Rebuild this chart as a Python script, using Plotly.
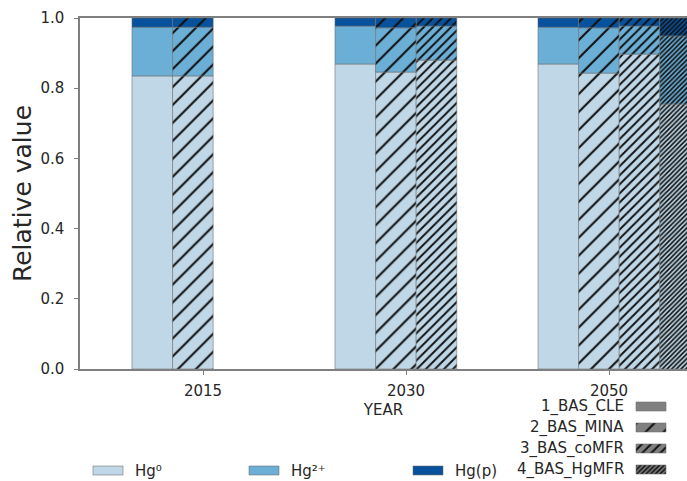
import plotly.graph_objects as go

years = ["2015", "2030", "2050"]
scenarios = ["1_BAS_CLE", "2_BAS_MINA", "3_BAS_coMFR", "4_BAS_HgMFR"]
species = ["Hg⁰", "Hg²⁺", "Hg(p)"]

# Share of each mercury species; rows = scenario, columns = year (None = not modelled)
hg0_share = [
    [0.835, 0.869, 0.869],
    [0.835, 0.846, 0.843],
    [None, 0.880, 0.897],
    [None, None, 0.755],
]
hg2_share = [
    [0.139, 0.108, 0.105],
    [0.139, 0.126, 0.129],
    [None, 0.097, 0.080],
    [None, None, 0.194],
]
hgp_share = [
    [0.026, 0.023, 0.026],
    [0.026, 0.028, 0.028],
    [None, 0.023, 0.023],
    [None, None, 0.051],
]

W, H = 687, 481
FONT = "DejaVu Sans"
TEXT = "#262626"
SPINE = "#7f7f7f"

species_colors = ["#bfd7e7", "#6baed6", "#08519c"]
edge = dict(color="rgba(110,110,110,0.7)", width=0.8)
hatch_shape = ["", "/", "/", "/"]
hatch_size = [10, 12.7, 6.4, 3.3]
hatch_solid = [0.1, 0.16, 0.3, 0.5]
bar_width = 0.2
bar_offset = [-0.25, -0.05, 0.15, 0.35]


def marker_for(color, si):
    m = dict(color=color, line=edge)
    if hatch_shape[si]:
        m["pattern"] = dict(shape=hatch_shape[si], size=hatch_size[si],
                            solidity=hatch_solid[si], fgcolor="#111111",
                            bgcolor=color, fillmode="replace")
    return m


fig = go.Figure()
shares = [hg0_share, hg2_share, hgp_share]

# stacked bars: one group per year, one bar per scenario
for si, scen in enumerate(scenarios):
    base = [0.0] * len(years)
    for ki, sp in enumerate(species):
        xs, ys, bs = [], [], []
        for yi in range(len(years)):
            v = shares[ki][si][yi]
            if v is None:
                continue
            xs.append(yi + bar_offset[si])
            ys.append(v)
            bs.append(base[yi])
            base[yi] += v
        fig.add_trace(go.Bar(x=xs, y=ys, base=bs, width=bar_width,
                             name=f"{scen} {sp}",
                             marker=marker_for(species_colors[ki], si),
                             xaxis="x", yaxis="y", hoverinfo="skip"))

# legend keys drawn on a pixel-scaled overlay axis
annotations = []
key_w, key_h = 30, 9
species_key_x = [93, 249, 413]
species_key_y = 466
for ki, sp in enumerate(species):
    fig.add_trace(go.Bar(x=[species_key_x[ki] + key_w / 2], y=[key_h], base=[species_key_y],
                         width=key_w, marker=dict(color=species_colors[ki], line=edge),
                         xaxis="x2", yaxis="y2", hoverinfo="skip"))
    annotations.append(dict(x=(species_key_x[ki] + key_w + 10) / W, y=1 - (species_key_y + key_h / 2) / H,
                            xref="paper", yref="paper", text=sp, showarrow=False,
                            xanchor="left", yanchor="middle",
                            font=dict(family=FONT, size=15, color=TEXT)))

scen_key_x = 636
scen_key_y0, scen_key_dy = 402, 21
for si, scen in enumerate(scenarios):
    top = scen_key_y0 + si * scen_key_dy
    fig.add_trace(go.Bar(x=[scen_key_x + key_w / 2], y=[key_h], base=[top], width=key_w,
                         marker=marker_for("#808080", si),
                         xaxis="x2", yaxis="y2", hoverinfo="skip"))
    annotations.append(dict(x=626 / W, y=1 - (top + key_h / 2) / H,
                            xref="paper", yref="paper", text=scen, showarrow=False,
                            xanchor="right", yanchor="middle",
                            font=dict(family=FONT, size=15, color=TEXT)))

x_lo, x_hi = 80 / W, 1.0
y_lo, y_hi = (H - 369) / H, (H - 18) / H

fig.update_layout(
    width=W, height=H,
    margin=dict(l=0, r=0, t=0, b=0, pad=0, autoexpand=False),
    paper_bgcolor="white", plot_bgcolor="rgba(0,0,0,0)",
    barmode="overlay", showlegend=False,
    font=dict(family=FONT, color=TEXT),
    annotations=annotations,
    xaxis=dict(domain=[x_lo, x_hi], range=[-0.606, 2.384], automargin=False,
               tickvals=list(range(len(years))), ticktext=years,
               showline=True, linecolor=SPINE, linewidth=1.5, mirror=True,
               ticks="outside", ticklen=4, tickcolor=SPINE, tickwidth=1.2,
               ticklabelstandoff=3,
               showgrid=False, zeroline=False,
               tickfont=dict(family=FONT, size=15, color=TEXT),
               title=dict(text="YEAR", standoff=6,
                          font=dict(family=FONT, size=15, color=TEXT))),
    yaxis=dict(domain=[y_lo, y_hi], range=[0, 1], dtick=0.2, tickformat=".1f",
               automargin=False,
               showline=True, linecolor=SPINE, linewidth=1.5,
               ticks="outside", ticklen=4, tickcolor=SPINE, tickwidth=1.2,
               ticklabelstandoff=7,
               showgrid=False, zeroline=False,
               tickfont=dict(family=FONT, size=15, color=TEXT),
               title=dict(text="Relative value", standoff=2,
                          font=dict(family=FONT, size=25, color=TEXT))),
    xaxis2=dict(domain=[0, 1], range=[0, W], visible=False, anchor="y2", automargin=False),
    yaxis2=dict(domain=[0, 1], range=[H, 0], visible=False, anchor="x2", automargin=False),
)

fig.write_html("out.html")
